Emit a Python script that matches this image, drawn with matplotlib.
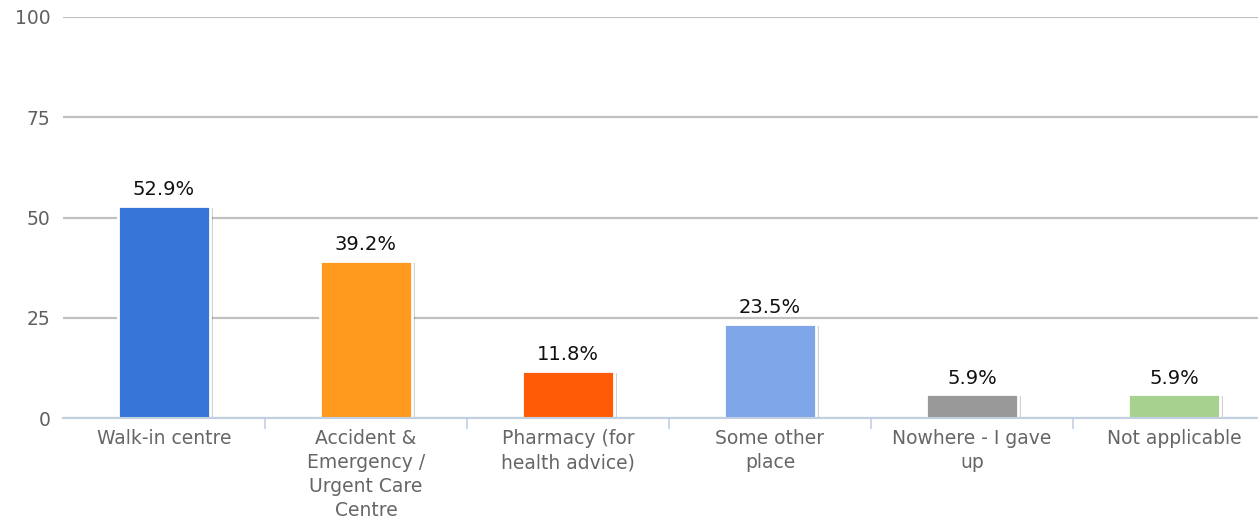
import matplotlib.pyplot as plt
import matplotlib.patheffects as pe
import numpy as np

# -----------------------------
# Chart data
# -----------------------------
categories = [
    "Walk-in centre",
    "Accident &\nEmergency /\nUrgent Care\nCentre",
    "Pharmacy (for\nhealth advice)",
    "Some other\nplace",
    "Nowhere - I gave\nup",
    "Not applicable",
]
values = [52.9, 39.2, 11.8, 23.5, 5.9, 5.9]
colors = ["#3775d8", "#ff9a1f", "#ff5a05", "#7ea6e8", "#999999", "#a6d18e"]
y_ticks = [0, 25, 50, 75, 100]

plt.rcParams["font.family"] = ["DejaVu Sans"]

W, H = 1258, 520
fig = plt.figure(figsize=(W / 100, H / 100), dpi=100)

# plot area in pixels: left 63, top 17, bottom 418, right edge runs past image
left, top, bottom = 63, 17, 418
ax = fig.add_axes([left / W, 1 - bottom / H, (W - left) / W, (bottom - top) / H])

x = np.arange(len(categories))
shadow = [pe.SimplePatchShadow(offset=(1.5, -1.5), shadow_rgbFace="#000000", alpha=0.18), pe.Normal()]
bars = ax.bar(x, values, width=0.46, color=colors, edgecolor="white", linewidth=2, zorder=3)
for b in bars:
    b.set_path_effects(shadow)

for xi, v in zip(x, values):
    ax.text(xi, v + 1.6, f"{v}%", ha="center", va="bottom", fontsize=14, color="#111111", zorder=4)

ax.set_yticks(y_ticks)
ax.set_yticklabels([str(t) for t in y_ticks])
ax.yaxis.grid(True, color="#c0c0c0", linewidth=1.6, zorder=0)
ax.set_axisbelow(True)

ax.set_xticks(x)
ax.set_xticklabels(categories, fontsize=13.5, color="#666666", linespacing=1.33, va="top")
ax.set_xticks(np.arange(len(categories)) + 0.5, minor=True)
ax.tick_params(axis="x", which="major", length=0, pad=8)
ax.tick_params(axis="x", which="minor", length=8, width=1.2, color="#c0d0e0", direction="out")
ax.tick_params(axis="y", length=0, pad=9, labelsize=13.5, labelcolor="#606060")

# limits after ticks so set_xticks does not widen the view
ax.set_ylim(0, 100)
ax.set_xlim(-0.5, -0.5 + (W - left) / 202)

for s in ["top", "right", "left"]:
    ax.spines[s].set_visible(False)
ax.spines["bottom"].set_color("#c0d0e0")
ax.spines["bottom"].set_linewidth(1.5)
ax.spines["bottom"].set_zorder(5)

fig.savefig("out.png", dpi=100)
